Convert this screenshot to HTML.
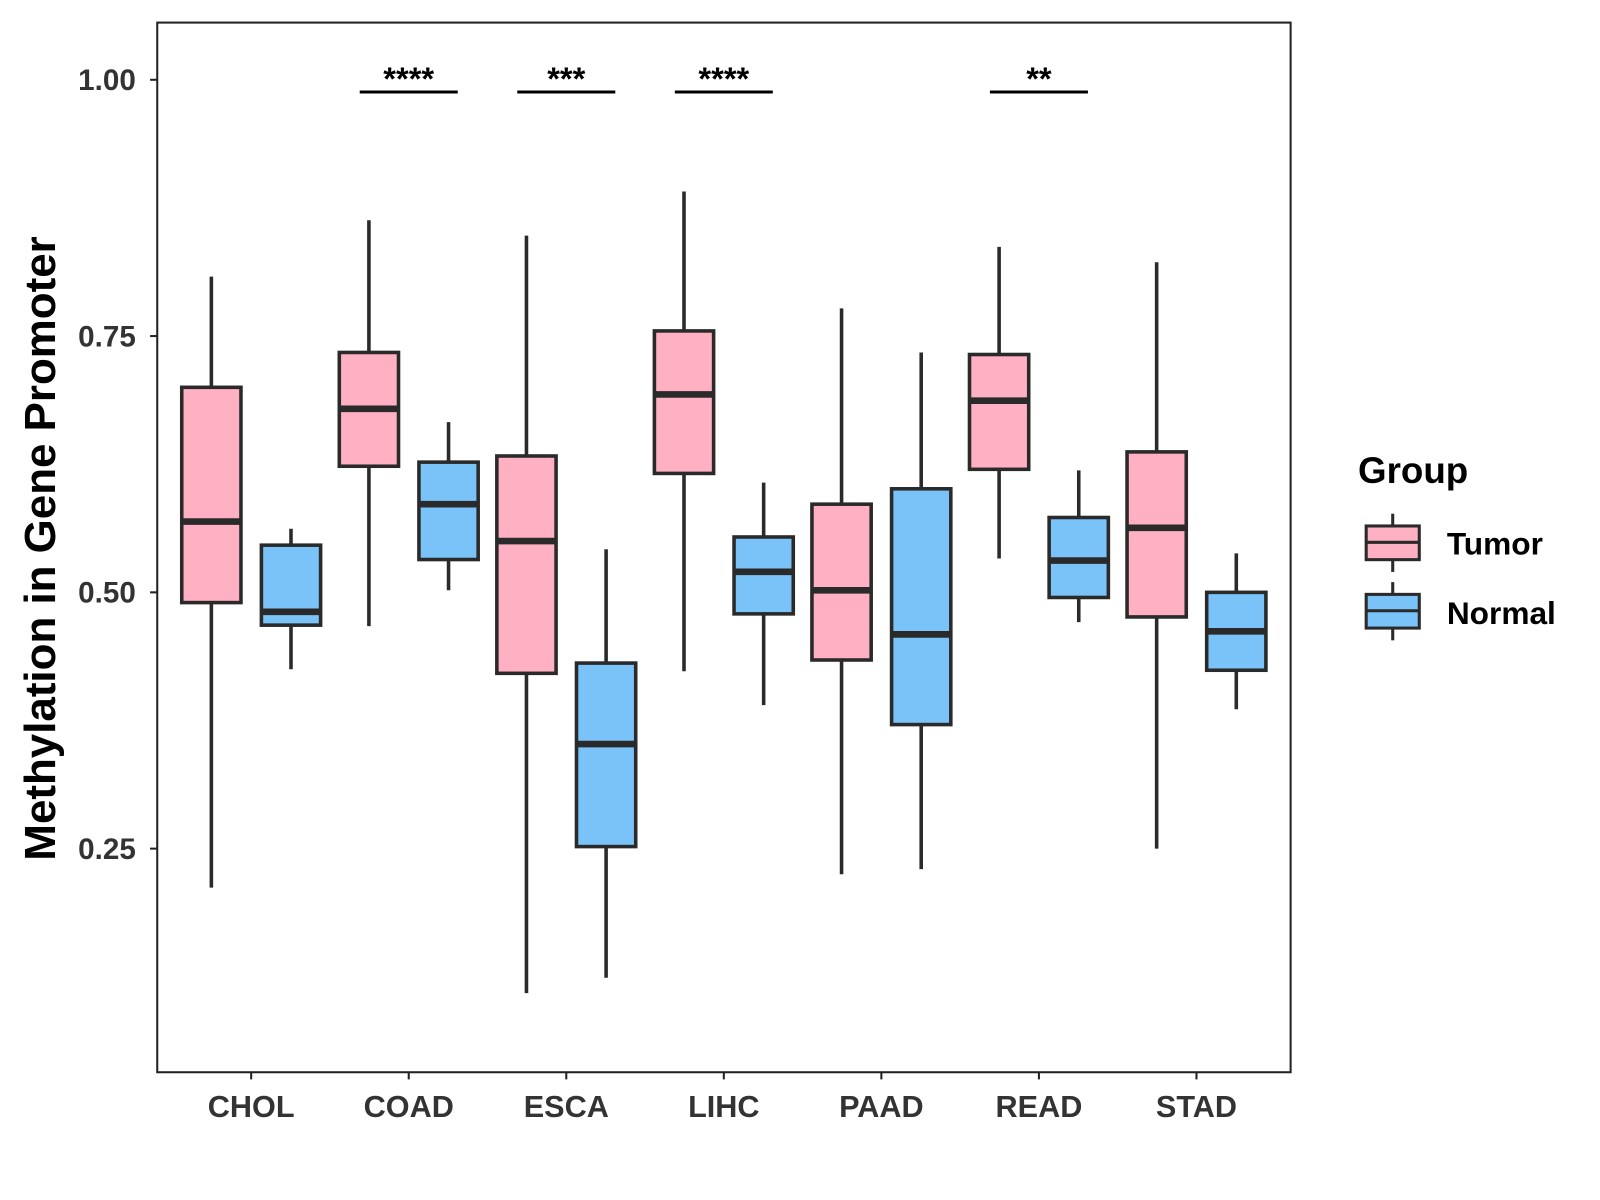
<!DOCTYPE html>
<html><head><meta charset="utf-8"><style>
html,body{margin:0;padding:0;background:#fff;}
svg{display:block;font-family:"Liberation Sans",Arial,sans-serif;}
</style></head><body>
<svg id="chart" width="1600" height="1200" viewBox="0 0 1567 1175">
<rect x="154" y="22" width="1110" height="1028" fill="#fff" stroke="#222" stroke-width="2"/>
<g id="marks"></g>
<text transform="translate(54,537) rotate(-90)" text-anchor="middle" font-size="43" font-weight="bold" fill="#000">Methylation in Gene Promoter</text>
<g>
<text x="1330" y="473" font-size="36" font-weight="bold">Group</text>
<g>
<line x1="1364" y1="503" x2="1364" y2="560" stroke="#2a2a2a" stroke-width="3"/>
<rect x="1338" y="515" width="52" height="33" fill="#FFB0C2" stroke="#2a2a2a" stroke-width="3"/>
<line x1="1338" y1="531" x2="1390" y2="531" stroke="#2a2a2a" stroke-width="3"/>
<text x="1417" y="543" font-size="31" font-weight="bold">Tumor</text></g>
<g>
<line x1="1364" y1="570" x2="1364" y2="627" stroke="#2a2a2a" stroke-width="3"/>
<rect x="1338" y="582" width="52" height="33" fill="#79C3F9" stroke="#2a2a2a" stroke-width="3"/>
<line x1="1338" y1="598" x2="1390" y2="598" stroke="#2a2a2a" stroke-width="3"/>
<text x="1417" y="611" font-size="31" font-weight="bold">Normal</text></g>
</g>
</svg>
<script>
const categories=["CHOL","COAD","ESCA","LIHC","PAAD","READ","STAD"];
// [whiskerHigh, q3, median, q1, whiskerLow]
const tumorStats=[[0.808,0.700,0.569,0.490,0.212],[0.863,0.734,0.679,0.623,0.467],[0.848,0.633,0.550,0.421,0.109],[0.891,0.755,0.693,0.616,0.423],[0.777,0.586,0.502,0.434,0.225],[0.837,0.732,0.687,0.620,0.533],[0.822,0.637,0.563,0.476,0.250]];
const normalStats=[[0.562,0.546,0.481,0.468,0.425],[0.666,0.627,0.586,0.532,0.502],[0.542,0.431,0.352,0.252,0.124],[0.607,0.554,0.520,0.479,0.390],[0.734,0.601,0.459,0.371,0.230],[0.619,0.573,0.531,0.495,0.471],[0.538,0.500,0.462,0.424,0.386]];
const yTicks=[0.25,0.50,0.75,1.00];
const yTickLabels=["0.25","0.50","0.75","1.00"];
const sigLabels=["","****","***","****","","**",""];

const NS="http://www.w3.org/2000/svg";
const g=document.getElementById('marks');
function y(v){return 78+(1-v)*1004;}
function x(i){return 246+i*154.3;}
function mk(tag,attrs,parent){const e=document.createElementNS(NS,tag);for(const k in attrs)e.setAttribute(k,attrs[k]);(parent||g).appendChild(e);return e;}
yTicks.forEach((t,i)=>{
  const l=mk('line',{x1:147,x2:154,y1:y(t),y2:y(t),stroke:'#222','stroke-width':2});
  
  
  const tx=mk('text',{x:133,y:y(t)+10,'text-anchor':'end','font-size':29,'font-weight':'bold',fill:'#333'});
  tx.textContent=yTickLabels[i];
  
  
});
function box(cx,s,fill,name){
  const grp=mk('g',{});
  
  
  mk('line',{x1:cx,x2:cx,y1:y(s[0]),y2:y(s[4]),stroke:'#2a2a2a','stroke-width':3.5},grp);
  mk('rect',{x:cx-29,y:y(s[1]),width:58,height:y(s[3])-y(s[1]),fill:fill,stroke:'#2a2a2a','stroke-width':3.5},grp);
  mk('line',{x1:cx-29,x2:cx+29,y1:y(s[2]),y2:y(s[2]),stroke:'#2a2a2a','stroke-width':6.5},grp);
}
categories.forEach((c,i)=>{
  box(x(i)-39,tumorStats[i],'#FFB0C2','box-tumor-'+c.toLowerCase());
  box(x(i)+39,normalStats[i],'#79C3F9','box-normal-'+c.toLowerCase());
  const tk=mk('line',{x1:x(i),x2:x(i),y1:1050,y2:1057,stroke:'#222','stroke-width':2});
  
  
  const lb=mk('text',{x:x(i),y:1094,'text-anchor':'middle','font-size':30,'font-weight':'bold',fill:'#333'});
  lb.textContent=c;
  
  
  if(sigLabels[i]){
    const b=mk('line',{x1:x(i)-48,x2:x(i)+48,y1:90,y2:90,stroke:'#000','stroke-width':3});
    
    
    const st=mk('text',{x:x(i),y:88,'text-anchor':'middle','font-size':32,'font-weight':'bold',fill:'#000'});
    st.textContent=sigLabels[i];
    
    
  }
});
</script>
</body></html>
